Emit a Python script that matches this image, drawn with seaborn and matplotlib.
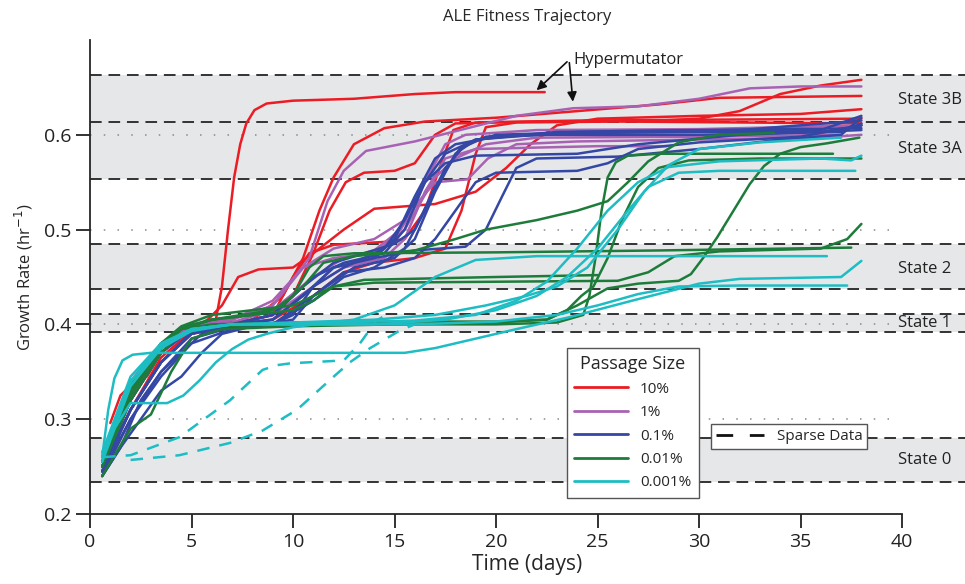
import pandas as pd
import matplotlib
matplotlib.use("Agg")
import matplotlib.pyplot as plt
import seaborn as sns
from matplotlib.lines import Line2D

# trajectories per passage size, each run is a list of (day, growth rate)
red_runs = [
    [(0.6, 0.25), (2, 0.33), (3.5, 0.37), (5, 0.395), (6.2, 0.405), (6.5, 0.44), (6.8, 0.5), (7.1, 0.555),
     (7.4, 0.59), (7.7, 0.612), (8.1, 0.626), (8.7, 0.633), (10, 0.636), (13, 0.638), (16, 0.643),
     (18, 0.645), (22.4, 0.645)],
    [(0.6, 0.245), (1.5, 0.30), (3, 0.36), (4.5, 0.39), (6, 0.40), (8, 0.405), (9.5, 0.43), (10.5, 0.47),
     (11.3, 0.52), (12, 0.555), (13, 0.59), (14.5, 0.607), (16.5, 0.614), (20, 0.618), (24, 0.625),
     (28, 0.632), (31, 0.639), (38, 0.641)],
    [(0.6, 0.25), (2, 0.32), (3.5, 0.37), (5, 0.395), (7, 0.40), (9, 0.41), (10, 0.43), (11, 0.475),
     (11.8, 0.52), (12.6, 0.55), (13.5, 0.56), (15, 0.562), (16, 0.57), (17, 0.60), (18, 0.612),
     (22, 0.614), (28, 0.615), (30, 0.617), (32, 0.625), (34, 0.643), (36, 0.652), (38, 0.658)],
    [(1.0, 0.296), (1.5, 0.325), (2.2, 0.34), (2.8, 0.345), (3.5, 0.37), (4.5, 0.39), (5.8, 0.405),
     (6.5, 0.42), (7.3, 0.45), (8.3, 0.458), (10, 0.46), (11, 0.475), (12.5, 0.50), (14, 0.522),
     (17, 0.527), (19, 0.54), (20.5, 0.565), (21.7, 0.59), (23, 0.61), (25, 0.617), (30, 0.62),
     (35, 0.622), (38, 0.627)],
    [(0.6, 0.245), (2, 0.31), (3.5, 0.365), (5, 0.393), (7, 0.40), (9, 0.41), (10, 0.45), (10.8, 0.475),
     (12, 0.484), (14.5, 0.487), (15.5, 0.49), (16.5, 0.52), (17.3, 0.57), (17.9, 0.605), (19, 0.613),
     (24, 0.615), (38, 0.617)],
    [(0.6, 0.25), (2, 0.31), (3.5, 0.36), (5, 0.39), (7, 0.398), (9, 0.405), (11, 0.43), (12.5, 0.455),
     (14, 0.465), (16, 0.47), (17.5, 0.48), (18.3, 0.52), (19, 0.58), (19.5, 0.608), (21, 0.613),
     (26, 0.614), (38, 0.612)],
]

purple_runs = [
    [(0.6, 0.25), (2, 0.32), (3.5, 0.375), (5, 0.395), (7, 0.40), (9, 0.42), (10.8, 0.47), (11.7, 0.53),
     (12.5, 0.562), (13.6, 0.583), (16, 0.593), (18.6, 0.607), (21, 0.62), (23.8, 0.628), (27, 0.63),
     (30, 0.638), (32.5, 0.649), (35, 0.651), (38, 0.651)],
    [(0.6, 0.255), (2, 0.33), (3.5, 0.38), (5, 0.398), (7, 0.402), (9, 0.415), (11, 0.45), (12.5, 0.47),
     (14, 0.478), (15.3, 0.50), (16.2, 0.53), (17, 0.55), (18.6, 0.553), (19.6, 0.575), (21, 0.59),
     (24, 0.593), (30, 0.595), (36, 0.597), (38, 0.60)],
    [(0.6, 0.25), (2, 0.32), (3.5, 0.37), (5, 0.395), (7, 0.40), (9, 0.41), (11, 0.44), (12.5, 0.46),
     (14.5, 0.47), (15.5, 0.49), (16.5, 0.54), (17.5, 0.575), (19, 0.585), (25, 0.588), (28.4, 0.588)],
    [(0.6, 0.255), (2, 0.33), (3.5, 0.38), (5, 0.398), (7, 0.405), (9, 0.42), (10.5, 0.46), (12, 0.48),
     (14, 0.49), (15.5, 0.51), (16.5, 0.55), (17.5, 0.59), (18.5, 0.60), (22, 0.605), (30, 0.606),
     (38, 0.61)],
    [(0.6, 0.26), (2, 0.34), (3.5, 0.38), (5, 0.40), (7, 0.405), (9, 0.425), (10.5, 0.46), (12, 0.47),
     (14, 0.475), (15.5, 0.50), (17, 0.555), (18, 0.575), (19.5, 0.59), (22, 0.597), (30, 0.598),
     (37, 0.60)],
]

blue_runs = [
    [(0.6, 0.24), (1.5, 0.27), (2.5, 0.32), (3.5, 0.35), (4.5, 0.37), (5.5, 0.39), (7, 0.398), (9, 0.40),
     (10, 0.41), (11, 0.44), (12, 0.46), (14, 0.47), (16, 0.478), (18.5, 0.482), (19.5, 0.50),
     (20.3, 0.535), (21, 0.565), (22, 0.575), (26, 0.577), (30, 0.585), (34, 0.595), (37, 0.60),
     (38, 0.618)],
    [(0.6, 0.245), (2, 0.30), (3.5, 0.35), (5, 0.385), (7, 0.397), (9, 0.40), (11, 0.43), (12.5, 0.455),
     (14.5, 0.46), (16, 0.47), (17, 0.49), (18, 0.52), (19, 0.55), (20, 0.56), (24, 0.562), (25.5, 0.57),
     (27, 0.585), (30, 0.592), (35, 0.598), (38, 0.61)],
    [(0.6, 0.25), (2, 0.31), (3.5, 0.36), (5, 0.39), (7, 0.40), (9, 0.405), (11, 0.44), (12.5, 0.46),
     (14.5, 0.48), (15.5, 0.51), (16.5, 0.55), (17.5, 0.57), (19, 0.578), (24, 0.58), (27, 0.59),
     (32, 0.60), (38, 0.605)],
    [(0.6, 0.245), (2, 0.31), (3.5, 0.36), (5, 0.39), (7, 0.40), (9, 0.405), (10.5, 0.43), (12, 0.46),
     (14, 0.47), (15, 0.49), (16, 0.535), (17, 0.575), (18, 0.59), (20, 0.598), (25, 0.602), (30, 0.603),
     (36, 0.605), (38, 0.62)],
    [(0.6, 0.25), (2, 0.32), (3.5, 0.37), (5, 0.395), (7, 0.40), (9, 0.41), (11, 0.45), (12.5, 0.465),
     (14.5, 0.475), (15.5, 0.50), (16.5, 0.55), (17.5, 0.58), (19, 0.595), (22, 0.60), (30, 0.60),
     (37, 0.603), (38, 0.612)],
    [(0.6, 0.24), (2, 0.30), (3.5, 0.345), (5, 0.38), (7, 0.395), (9, 0.40), (11, 0.425), (12.5, 0.45),
     (14, 0.46), (15.5, 0.48), (16.5, 0.52), (17.5, 0.565), (18.5, 0.59), (20, 0.60), (26, 0.604),
     (38, 0.607)],
    [(0.6, 0.24), (1.5, 0.27), (2.5, 0.30), (3.5, 0.33), (4.5, 0.345), (5.5, 0.37), (6.5, 0.39),
     (8, 0.398), (10, 0.405), (11, 0.43), (13, 0.46), (15, 0.47), (16, 0.49), (17, 0.54), (18, 0.58),
     (19, 0.595), (23, 0.603), (32, 0.605), (38, 0.615)],
    [(0.6, 0.245), (2, 0.31), (3.5, 0.36), (5, 0.392), (7, 0.40), (9, 0.41), (10.5, 0.44), (12, 0.465),
     (13.5, 0.475), (15, 0.485), (16, 0.50), (17, 0.545), (18.2, 0.585), (19.5, 0.598), (24, 0.603),
     (36, 0.603), (38, 0.61)],
]

green_runs = [
    [(0.6, 0.255), (2, 0.33), (3.5, 0.375), (4.5, 0.395), (6, 0.405), (7.5, 0.41), (9, 0.415), (10, 0.43),
     (10.8, 0.46), (11.5, 0.472), (13, 0.475), (20, 0.476), (28, 0.478), (37.5, 0.481)],
    [(0.6, 0.26), (2, 0.335), (3.5, 0.38), (4.5, 0.398), (6, 0.41), (8, 0.415), (10, 0.42), (11, 0.43),
     (12, 0.44), (14, 0.444), (20, 0.445), (26, 0.446), (27.5, 0.455), (28.8, 0.472), (31, 0.477),
     (36, 0.48), (37.3, 0.49), (38, 0.506)],
    [(0.6, 0.25), (2, 0.32), (3.5, 0.37), (4.5, 0.39), (6, 0.398), (10, 0.40), (15, 0.40), (20, 0.40),
     (23, 0.402), (24.3, 0.41), (24.6, 0.43), (24.9, 0.47), (25.2, 0.52), (25.5, 0.555), (25.9, 0.571),
     (26.5, 0.578), (28, 0.58), (36.6, 0.58)],
    [(0.6, 0.255), (2, 0.325), (3.5, 0.375), (4.5, 0.395), (6, 0.40), (10, 0.402), (16, 0.403),
     (20, 0.403), (22.5, 0.405), (24, 0.42), (25.5, 0.438), (27, 0.443), (29, 0.446), (29.6, 0.453),
     (30.2, 0.47), (30.9, 0.492), (31.7, 0.52), (32.5, 0.548), (33.2, 0.567), (34, 0.58), (35, 0.587),
     (36.3, 0.591), (37.9, 0.597)],
    [(0.6, 0.25), (2, 0.33), (3.5, 0.375), (4.5, 0.395), (6, 0.405), (8, 0.41), (9.5, 0.42), (10.5, 0.44),
     (11.5, 0.465), (13, 0.472), (16, 0.478), (18, 0.49), (19.5, 0.50), (22, 0.51), (24, 0.52),
     (25.5, 0.53), (26.5, 0.55), (27.5, 0.572), (29, 0.592), (31, 0.60), (33.7, 0.602)],
    [(0.6, 0.24), (2, 0.29), (3, 0.305), (4, 0.35), (5, 0.385), (6.5, 0.395), (10, 0.398), (15, 0.40),
     (20, 0.402), (22.5, 0.405), (23.5, 0.415), (24.2, 0.43), (24.8, 0.44), (25.5, 0.47), (26.2, 0.51),
     (27, 0.545), (28, 0.565), (29.5, 0.573), (33, 0.575), (38, 0.575)],
    [(0.6, 0.255), (2, 0.33), (3.5, 0.378), (4.5, 0.397), (6, 0.405), (8, 0.41), (10, 0.415), (11, 0.425),
     (12, 0.44), (13.5, 0.447), (20, 0.45), (25, 0.452)],
]

cyan_runs = [
    [(0.6, 0.26), (0.9, 0.31), (1.2, 0.343), (1.6, 0.362), (2.1, 0.368), (3, 0.37), (10, 0.37),
     (15.5, 0.37), (17, 0.375), (19, 0.385), (21, 0.395), (23.5, 0.407), (26.7, 0.425), (30, 0.443),
     (32, 0.448), (37, 0.45), (38, 0.467)],
    [(0.6, 0.26), (1.2, 0.29), (2, 0.317), (3.8, 0.317), (4.6, 0.325), (5.4, 0.341), (6.2, 0.36),
     (7, 0.374), (7.8, 0.384), (8.7, 0.39), (10, 0.397), (11, 0.40), (13, 0.405), (15, 0.42), (17, 0.45),
     (19, 0.468), (22, 0.472), (36.3, 0.472)],
    [(0.6, 0.265), (2, 0.345), (3.5, 0.38), (5, 0.395), (7, 0.40), (10, 0.402), (14, 0.405), (17, 0.41),
     (19.5, 0.42), (21.5, 0.43), (23, 0.44), (24.5, 0.46), (26, 0.50), (27.3, 0.54), (28.5, 0.568),
     (30, 0.585), (33, 0.592), (37, 0.597)],
    [(0.6, 0.26), (2, 0.34), (3.5, 0.375), (5, 0.393), (7, 0.40), (10, 0.40), (14, 0.40), (17.5, 0.405),
     (20, 0.415), (22, 0.43), (23.5, 0.45), (25, 0.48), (26.5, 0.52), (27.5, 0.545), (29, 0.56),
     (31, 0.562), (37.7, 0.562)],
    [(0.6, 0.255), (2, 0.335), (3.5, 0.375), (5, 0.395), (7, 0.40), (12, 0.402), (16, 0.404), (19, 0.41),
     (21, 0.425), (22.5, 0.445), (24, 0.48), (25.5, 0.52), (27, 0.55), (28.5, 0.566), (31, 0.572),
     (36, 0.575), (37.5, 0.573), (38, 0.578)],
    [(0.6, 0.26), (2, 0.34), (3.5, 0.378), (5, 0.395), (7, 0.40), (12, 0.40), (16, 0.40), (20, 0.403),
     (23, 0.41), (25, 0.42), (27, 0.432), (29, 0.44), (32, 0.441), (37.3, 0.441)],
]

sparse_runs = [
    [(0.65, 0.26), (2, 0.262), (4.4, 0.281), (6.9, 0.32), (8.5, 0.352), (9.2, 0.357), (9.9, 0.359),
     (12.5, 0.362), (13.3, 0.38), (14.1, 0.404), (14.6, 0.41)],
    [(2, 0.257), (4.4, 0.262), (6.9, 0.275), (8.5, 0.288), (10.2, 0.31), (11.8, 0.341), (12.8, 0.36),
     (13.8, 0.375), (15.3, 0.394), (16, 0.40)],
]

passage_labels = ["10%", "1%", "0.1%", "0.01%", "0.001%"]
passage_colors = ["#ec1c24", "#a862b4", "#3447a5", "#1d7c3a", "#1dbdc3"]

state_names = ["State 0", "State 1", "State 2", "State 3A", "State 3B"]
state_low = [0.234, 0.392, 0.437, 0.553, 0.613]
state_high = [0.280, 0.411, 0.485, 0.613, 0.663]
state_label_y = [0.257, 0.401, 0.458, 0.585, 0.637]
dotted_levels = [0.3, 0.4, 0.5, 0.6]

# long-form table
rows = []
groups = [red_runs, purple_runs, blue_runs, green_runs, cyan_runs]
for label, runs in zip(passage_labels, groups):
    for i, run in enumerate(runs):
        for d, g in run:
            rows.append({"day": d, "rate": g, "passage": label, "run": f"{label}-{i}", "kind": "full"})
for i, run in enumerate(sparse_runs):
    for d, g in run:
        rows.append({"day": d, "rate": g, "passage": "0.001%", "run": f"sparse-{i}", "kind": "sparse"})
df = pd.DataFrame(rows)

sns.set_style("ticks")
plt.rcParams["font.family"] = ["Open Sans", "DejaVu Sans"]

fig = plt.figure(figsize=(9.65, 5.84), dpi=100)
ax = fig.add_axes([90 / 965, 70 / 584, 875 / 965, 474 / 584])
ax.set_xlim(0, 875 / 20.3)
ax.set_ylim(0.2, 0.7)

for lo, hi in zip(state_low, state_high):
    ax.axhspan(lo, hi, color="#e6e7e9", zorder=0, lw=0)
for lvl in sorted(set(state_low + state_high)):
    ax.axhline(lvl, color="#333333", lw=1.4, ls=(0, (6, 3.5)), zorder=1)
ax.hlines(dotted_levels, 0, 39.8, colors="#8a8a8a", linestyles=(0, (1, 8)), lw=1.1, zorder=1)

sns.lineplot(data=df, x="day", y="rate", hue="passage", hue_order=passage_labels,
             palette=dict(zip(passage_labels, passage_colors)), units="run", estimator=None,
             style="kind", dashes={"full": "", "sparse": (5, 4)}, lw=1.8, legend=False, ax=ax, zorder=3)

for name, y in zip(state_names, state_label_y):
    ax.text(39.8, y, name, fontsize=12, va="center", ha="left", color="#222222")

ax.annotate("", xy=(21.9, 0.645), xytext=(23.6, 0.679),
            arrowprops=dict(arrowstyle="-|>", color="#111111", lw=1.2, mutation_scale=14))
ax.annotate("", xy=(23.8, 0.632), xytext=(23.6, 0.679),
            arrowprops=dict(arrowstyle="-|>", color="#111111", lw=1.2, mutation_scale=14))
ax.text(23.8, 0.679, "Hypermutator", fontsize=12, va="center", ha="left", color="#222222")

handles = [Line2D([], [], color=c, lw=2) for c in passage_colors]
leg = ax.legend(handles, passage_labels, title="Passage Size", loc="upper left",
                bbox_to_anchor=(0.536, 0.367), fontsize=11, title_fontsize=13,
                frameon=True, fancybox=False, framealpha=1, facecolor="white",
                edgecolor="#555555", handlelength=3.5, labelspacing=0.55, borderpad=0.5)
leg.get_frame().set_linewidth(1.0)
ax.add_artist(leg)

sparse_handle = [Line2D([], [], color="#111111", lw=2, ls=(0, (6, 6)))]
leg2 = ax.legend(sparse_handle, ["Sparse Data"], loc="upper left", bbox_to_anchor=(0.701, 0.205),
                 fontsize=11, frameon=True, fancybox=False, framealpha=1, facecolor="white",
                 edgecolor="#555555", handlelength=3.2, borderpad=0.3)
leg2.get_frame().set_linewidth(1.0)

ax.set_xticks(range(0, 41, 5))
ax.set_yticks([0.2, 0.3, 0.4, 0.5, 0.6])
ax.set_yticklabels(["0.2", "0.3", "0.4", "0.5", "0.6"])
ax.tick_params(length=10, width=1.3, labelsize=14, colors="#222222")
sns.despine(ax=ax)
ax.spines["bottom"].set_bounds(0, 40)
ax.spines["left"].set_linewidth(1.3)
ax.spines["bottom"].set_linewidth(1.3)
ax.set_xlabel("Time (days)", fontsize=15, labelpad=2)
ax.set_ylabel("Growth Rate (hr$^{-1}$)", fontsize=12, labelpad=6)
ax.set_title("ALE Fitness Trajectory", fontsize=12, pad=14)

fig.savefig("out.png", dpi=100)
